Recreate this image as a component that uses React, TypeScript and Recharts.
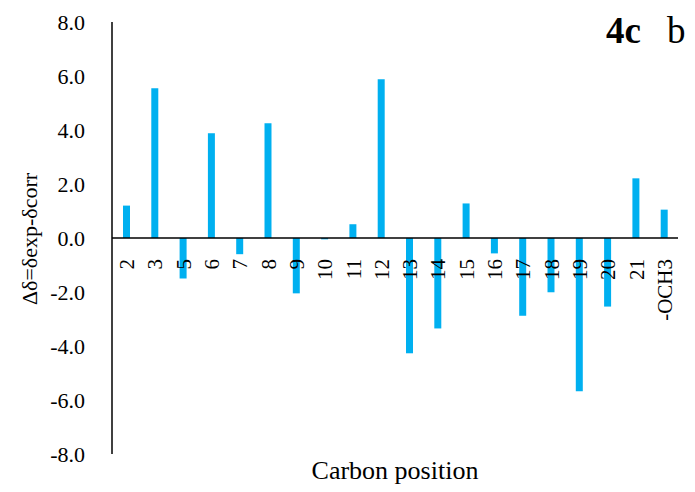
import React from 'react';
import { BarChart, Bar, XAxis, YAxis, ReferenceLine } from 'recharts';

const positions = ['2', '3', '5', '6', '7', '8', '9', '10', '11', '12', '13', '14', '15', '16', '17', '18', '19', '20', '21', '-OCH3'];
const deltas = [1.2, 5.55, -1.5, 3.88, -0.6, 4.25, -2.05, -0.05, 0.51, 5.88, -4.27, -3.35, 1.28, -0.57, -2.88, -2.01, -5.68, -2.54, 2.21, 1.05];
const yTicks = [-8, -6, -4, -2, 0, 2, 4, 6, 8];

const FONT = 'Liberation Serif, DejaVu Serif';
const BAR_COLOR = '#00B0F0';

const data = positions.map((name, i) => ({ name, value: deltas[i] }));

// labels hang just below the zero line, rotated to read upwards
const renderZeroTick = (props: any) => {
  const { x, y, payload } = props;
  const zeroY = y - 216 + 13;
  return (
    <text
      key={payload.value}
      x={x + 1}
      y={zeroY}
      transform={`rotate(-90, ${x + 1}, ${zeroY})`}
      textAnchor="end"
      dominantBaseline="central"
      fontFamily={FONT}
      fontSize={21}
      fill="#000"
    >
      {payload.value}
    </text>
  );
};

const renderYTick = (props: any) => {
  const { x, y, payload } = props;
  return (
    <text
      key={payload.value}
      x={x}
      y={y}
      textAnchor="end"
      dominantBaseline="central"
      fontFamily={FONT}
      fontSize={22}
      fill="#000"
    >
      {Number(payload.value).toFixed(1)}
    </text>
  );
};

const App: React.FC = () => {
  return (
    <div style={{ position: 'absolute', left: 0, top: 0, width: 695, height: 492, background: '#fff' }}>
      <BarChart
        width={695}
        height={492}
        data={data}
        margin={{ top: 22, right: 17, bottom: 0, left: 0 }}
        barCategoryGap={0}
      >
        <XAxis
          dataKey="name"
          axisLine={false}
          tickLine={false}
          tick={renderZeroTick}
          height={38}
          interval={0}
        />
        <YAxis
          domain={[-8, 8]}
          ticks={yTicks}
          width={112}
          tickLine={false}
          tickSize={0}
          tickMargin={27}
          axisLine={{ stroke: '#000', strokeWidth: 1.5 }}
          tick={renderYTick}
        />
        <Bar dataKey="value" fill={BAR_COLOR} barSize={7} isAnimationActive={false} />
        <ReferenceLine y={0} stroke="#000" strokeWidth={1.5} />
      </BarChart>
      <div
        style={{
          position: 'absolute',
          left: 30,
          top: 239,
          transform: 'translate(-50%, -50%) rotate(-90deg)',
          fontFamily: FONT,
          fontSize: 22,
          whiteSpace: 'nowrap',
          color: '#000',
        }}
      >
        Δδ=δexp-δcorr
      </div>
      <div
        style={{
          position: 'absolute',
          left: 395,
          top: 471,
          transform: 'translate(-50%, -50%)',
          fontFamily: FONT,
          fontSize: 26,
          whiteSpace: 'nowrap',
          color: '#000',
        }}
      >
        Carbon position
      </div>
      <div
        style={{
          position: 'absolute',
          left: 606,
          top: 12,
          fontFamily: FONT,
          fontSize: 37,
          lineHeight: '37px',
          whiteSpace: 'nowrap',
          color: '#000',
        }}
      >
        <b>4c</b>
        <span style={{ marginLeft: 26 }}>b</span>
      </div>
    </div>
  );
};

export default App;
